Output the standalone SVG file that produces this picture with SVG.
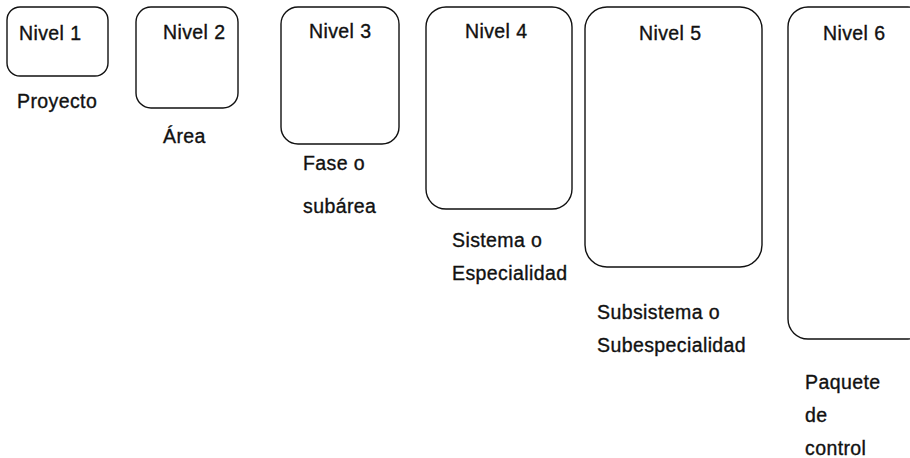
<svg xmlns="http://www.w3.org/2000/svg" width="910" height="458" viewBox="0 0 910 458">
<style>
.box{fill:#fff;stroke:#111;stroke-width:1.4}
text{font-family:"Liberation Sans",Arial,sans-serif;font-size:19.5px;letter-spacing:0.4px;fill:#111;stroke:#111;stroke-width:0.35}
</style>
<rect width="910" height="458" fill="#fff"/>
<g id="nivel1">
<rect class="box" x="7" y="7" width="101" height="69" rx="13"/>
<text x="19" y="40">Nivel 1</text>
<text x="17" y="108">Proyecto</text>
</g>
<g id="nivel2">
<rect class="box" x="136" y="7" width="102" height="101" rx="15"/>
<text x="163" y="39">Nivel 2</text>
<text x="163" y="143">Área</text>
</g>
<g id="nivel3">
<rect class="box" x="281" y="7" width="118" height="137" rx="17"/>
<text x="309" y="38">Nivel 3</text>
<text x="303" y="170">Fase o</text>
<text x="303" y="213">subárea</text>
</g>
<g id="nivel4">
<rect class="box" x="426" y="7" width="146" height="202" rx="20"/>
<text x="465" y="38">Nivel 4</text>
<text x="452" y="247">Sistema o</text>
<text x="452" y="280">Especialidad</text>
</g>
<g id="nivel5">
<rect class="box" x="585" y="7" width="177" height="260" rx="22"/>
<text x="639" y="40">Nivel 5</text>
<text x="597" y="319">Subsistema o</text>
<text x="597" y="352">Subespecialidad</text>
</g>
<g id="nivel6">
<rect class="box" x="788" y="7" width="140" height="332" rx="20"/>
<text x="823" y="40">Nivel 6</text>
<text x="805" y="389">Paquete</text>
<text x="805" y="422">de</text>
<text x="805" y="455">control</text>
</g>
<g id="connectors"></g>
</svg>
